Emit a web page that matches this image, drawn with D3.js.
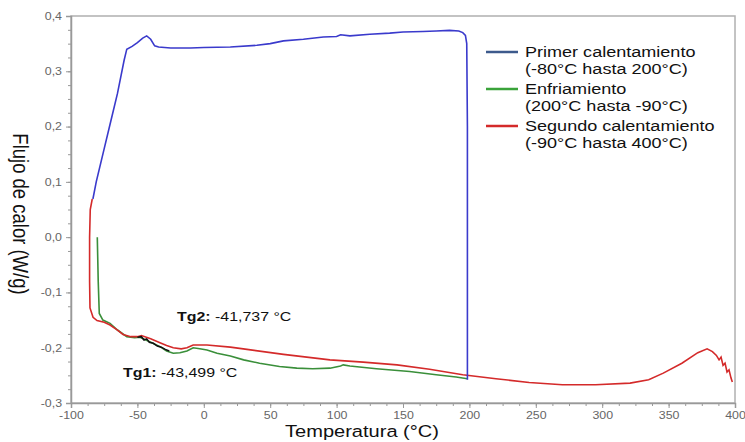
<!DOCTYPE html>
<html>
<head>
<meta charset="utf-8">
<script src="https://cdn.jsdelivr.net/npm/d3@7"></script>
<style>
  body { margin: 0; background: #fff; }
  text { font-family: "Liberation Sans", Arial, sans-serif; }
</style>
</head>
<body>
<div id="chart"></div>
<script>
// temperatures (°C) and heat flow (W/g)
const primerT = [-83.5, -81, -75, -70, -65, -60, -58, -54, -50, -46, -43, -40, -37, -34, -25, -10, 0, 20, 40, 50, 60, 75, 90, 100, 103, 110, 125, 140, 150, 165, 175, 185, 192, 195, 197, 198, 198.5, 198.5];
const primerV = [0.069, 0.1, 0.16, 0.21, 0.26, 0.32, 0.34, 0.345, 0.352, 0.36, 0.364, 0.358, 0.346, 0.344, 0.342, 0.342, 0.343, 0.344, 0.347, 0.35, 0.355, 0.358, 0.362, 0.363, 0.366, 0.364, 0.367, 0.369, 0.371, 0.372, 0.373, 0.374, 0.373, 0.37, 0.365, 0.35, 0.2, -0.258];

const enfriT = [198.5, 190, 175, 155, 130, 110, 105, 103, 95, 82, 70, 57, 42, 30, 20, 10, 2.4, -3, -8, -12.7, -18, -23, -28, -33, -40, -48, -52, -58, -65, -70.6, -76, -78.7, -79.5, -80.2];
const enfriV = [-0.256, -0.253, -0.249, -0.243, -0.238, -0.233, -0.231, -0.233, -0.237, -0.238, -0.237, -0.234, -0.228, -0.222, -0.215, -0.21, -0.204, -0.202, -0.2, -0.206, -0.209, -0.21, -0.206, -0.198, -0.19, -0.181, -0.182, -0.18, -0.168, -0.156, -0.15, -0.138, -0.08, 0.0];

const segundoT = [-84, -85.5, -86, -86, -85.7, -83.4, -80.4, -75, -70.6, -65, -60.8, -55, -50, -47, -40, -33, -28, -23, -17, -12.7, -8, 2.4, 20, 32.5, 60, 95, 120, 145.5, 170, 195, 220, 245, 270, 295, 321, 335, 346, 360, 372, 379, 383, 386, 388, 389.5, 391, 392.5, 394, 395.5, 397, 398];
const segundoV = [0.069, 0.05, 0.0, -0.08, -0.128, -0.145, -0.151, -0.154, -0.159, -0.168, -0.176, -0.18, -0.18, -0.178, -0.184, -0.191, -0.196, -0.2, -0.202, -0.2, -0.195, -0.195, -0.199, -0.203, -0.212, -0.222, -0.226, -0.231, -0.239, -0.249, -0.256, -0.263, -0.267, -0.267, -0.264, -0.258, -0.246, -0.228, -0.209, -0.202, -0.207, -0.214, -0.222, -0.217, -0.232, -0.228, -0.244, -0.24, -0.255, -0.262];

const tgT = [-50, -47, -45, -43, -41, -38, -35, -32, -29, -26];
const tgV = [-0.181, -0.18, -0.186, -0.184, -0.19, -0.192, -0.197, -0.199, -0.203, -0.206];

const xTicks = [-100, -50, 0, 50, 100, 150, 200, 250, 300, 350, 400];
const yTicks = [0.4, 0.3, 0.2, 0.1, 0.0, -0.1, -0.2, -0.3];

const legendNames = ["Primer calentamiento", "Enfriamiento", "Segundo calentamiento"];
const legendRanges = ["(-80°C hasta 200°C)", "(200°C hasta -90°C)", "(-90°C hasta 400°C)"];
const legendColors = ["#3d5a8c", "#3aa33a", "#d42a2a"];

const W = 745, H = 442;
const mLeft = 71, mRight = 735, mTop = 16, mBottom = 403;
const sx = 1.18; // the original picture is a bit wider than tall

const svg = d3.select("#chart").append("svg").attr("width", W).attr("height", H);

const x = d3.scaleLinear().domain([-100, 400]).range([mLeft, mRight]);
const y = d3.scaleLinear().domain([-0.3, 0.4]).range([mBottom, mTop]);

const fmt = d => d3.format(".1f")(d).replace(".", ",").replace("−", "-");

// text placed at (px,py) and stretched sideways
function wideText(px, py, size) {
    return svg.append("text")
        .attr("transform", `translate(${px},${py}) scale(${sx},1)`)
        .attr("font-size", size).attr("fill", "#111");
}

// frame
svg.append("rect")
    .attr("x", mLeft).attr("y", mTop)
    .attr("width", mRight - mLeft).attr("height", mBottom - mTop)
    .attr("fill", "none").attr("stroke", "#b0b0b0").attr("stroke-width", 1.5);

// minor ticks
const xMinor = d3.range(-100, 400.1, 12.5);
const yMinor = d3.range(-0.3, 0.401, 0.025);

svg.append("g").attr("transform", `translate(0,${mBottom})`)
    .call(d3.axisBottom(x).tickValues(xMinor).tickSize(3).tickFormat(""))
    .call(g => g.select(".domain").remove())
    .call(g => g.selectAll("line").attr("stroke", "#999"));
svg.append("g").attr("transform", `translate(${mLeft},0)`)
    .call(d3.axisLeft(y).tickValues(yMinor).tickSize(3).tickFormat(""))
    .call(g => g.select(".domain").remove())
    .call(g => g.selectAll("line").attr("stroke", "#999"));

// major ticks
svg.append("g").attr("transform", `translate(0,${mBottom})`)
    .call(d3.axisBottom(x).tickValues(xTicks).tickSize(5).tickPadding(4).tickFormat(d => d3.format("d")(d).replace("−", "-")))
    .call(g => g.select(".domain").attr("stroke", "#999").attr("stroke-width", 1.5))
    .call(g => g.selectAll("line").attr("stroke", "#999"))
    .call(g => g.selectAll("text").attr("fill", "#666").attr("font-size", 10.5)
        .attr("transform", `scale(${sx},1)`)
        .attr("font-family", "Liberation Sans, Arial, sans-serif"));
svg.append("g").attr("transform", `translate(${mLeft},0)`)
    .call(d3.axisLeft(y).tickValues(yTicks).tickSize(5).tickPadding(4).tickFormat(fmt))
    .call(g => g.select(".domain").attr("stroke", "#999").attr("stroke-width", 1.5))
    .call(g => g.selectAll("line").attr("stroke", "#999"))
    .call(g => g.selectAll("text").attr("fill", "#666").attr("font-size", 10.5)
        .attr("x", -9 / sx).attr("transform", `scale(${sx},1)`)
        .attr("font-family", "Liberation Sans, Arial, sans-serif"));

// curves
const line = d3.line().x(d => x(d[0])).y(d => y(d[1]));
function series(T, V) { return T.map((t, i) => [t, V[i]]); }

svg.append("path").datum(series(enfriT, enfriV))
    .attr("d", line).attr("fill", "none").attr("stroke", "#3a8f3a").attr("stroke-width", 1.6);
svg.append("path").datum(series(segundoT, segundoV))
    .attr("d", line).attr("fill", "none").attr("stroke", "#d42a2a").attr("stroke-width", 1.6);
svg.append("path").datum(series(primerT, primerV))
    .attr("d", line).attr("fill", "none").attr("stroke", "#3a3acc").attr("stroke-width", 1.6);
svg.append("path").datum(series(tgT, tgV))
    .attr("d", line).attr("fill", "none").attr("stroke", "#111").attr("stroke-width", 1.6);

// annotations
const ann = [
    { label: "Tg2:", value: " -41,737 °C", x: 177, y: 321 },
    { label: "Tg1:", value: " -43,499 °C", x: 123, y: 377 }
];
ann.forEach(a => {
    const t = wideText(a.x, a.y, 13.5);
    t.append("tspan").attr("font-weight", "bold").text(a.label);
    t.append("tspan").text(a.value);
});

// legend
legendNames.forEach((n, i) => {
    const yy = 57 + i * 37;
    svg.append("line").attr("x1", 486).attr("x2", 518).attr("y1", yy - 5).attr("y2", yy - 5)
        .attr("stroke", legendColors[i]).attr("stroke-width", 2.5);
    wideText(525, yy, 15.3).text(n);
    wideText(525, yy + 17, 15.3).text(legendRanges[i]);
});

// axis titles
wideText(362, 437, 17).attr("text-anchor", "middle").text("Temperatura (°C)");
svg.append("text").attr("transform", "translate(13,214) rotate(90) scale(1,1.15)").attr("text-anchor", "middle")
    .attr("font-size", 18.5).attr("fill", "#111").text("Flujo de calor (W/g)");
</script>
</body>
</html>
